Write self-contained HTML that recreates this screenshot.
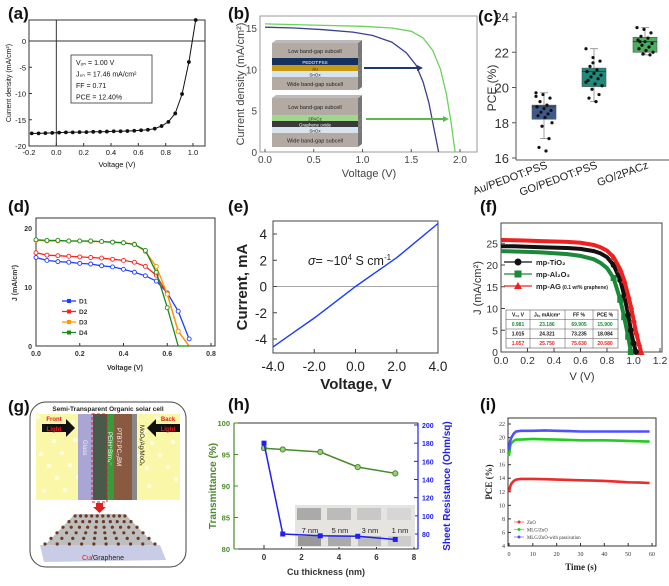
<!DOCTYPE html>
<html><head><meta charset="utf-8"><style>
html,body{margin:0;padding:0;background:#fff}
svg{display:block;font-family:"Liberation Sans",sans-serif}
</style></head><body>
<svg id="fig" width="669" height="586" viewBox="0 0 669 586" xmlns="http://www.w3.org/2000/svg"></svg>
<script>
// ---- data ----
const aV=[-0.18,-0.13,-0.08,-0.03,0.02,0.07,0.12,0.17,0.22,0.27,0.32,0.37,0.42,0.47,0.52,0.57,0.62,0.67,0.72,0.77,0.82,0.87,0.92,0.97,1.02];
const aJ=[-17.6,-17.6,-17.55,-17.5,-17.45,-17.4,-17.4,-17.35,-17.35,-17.3,-17.3,-17.25,-17.2,-17.2,-17.15,-17.1,-17.0,-16.9,-16.7,-16.2,-15.4,-13.8,-10.1,-4.0,4.0];
const bBlueV=[0,0.3,0.6,0.9,1.1,1.3,1.45,1.55,1.62,1.68,1.73,1.78];
const bBlueJ=[15.1,15.0,14.8,14.5,14.1,13.3,12.0,10.5,8.5,6.0,3.0,0];
const bGreenV=[0,0.5,1.0,1.3,1.5,1.62,1.72,1.8,1.86,1.91,1.95];
const bGreenJ=[15.5,15.35,15.2,15.0,14.6,13.8,12.3,10.0,7.0,3.5,0];
const cCats=["Au/PEDOT:PSS","GO/PEDOT:PSS","GO/2PACz"];
const cQ1=[18.2,20.05,22.0],cMed=[18.9,20.9,22.6],cQ3=[19.0,21.1,22.85],cMin=[17.1,19.2,21.85],cMax=[19.7,22.2,23.4];
const cPts=[[19.7,19.6,19.4,19.2,19.0,18.9,18.8,18.7,18.6,18.5,18.4,18.3,18.0,17.8,17.1,16.6,16.4,19.5],
[22.2,21.7,21.5,21.2,21.0,20.9,20.8,20.7,20.6,20.5,20.4,20.2,20.1,19.9,19.6,19.4,19.2,20.3,21.4],
[23.4,23.3,23.1,22.9,22.8,22.7,22.6,22.5,22.4,22.3,22.2,22.1,22.0,21.9,21.85,22.6]];
const dV=[0,0.05,0.1,0.15,0.2,0.25,0.3,0.35,0.4,0.45,0.5,0.55,0.6,0.65,0.7];
const dD1=[15.0,14.5,14.3,14.2,14.0,13.9,13.6,13.4,13.0,12.5,11.9,11.0,9.0,5.9,1.2];
const dD2=[15.8,15.4,15.3,15.2,15.1,15.0,14.9,14.7,14.5,14.2,13.5,12.0,8.8,2.5,0];
const dD3=[17.9,17.8,17.8,17.8,17.8,17.7,17.7,17.6,17.5,17.3,16.0,13.5,8.8,2.5,0];
const dD4=[18.0,17.9,17.9,17.8,17.8,17.8,17.7,17.6,17.5,17.2,16.2,12.5,6.5,0,0];
const eV=[-4,-3,-2,-1,0,1,2,3,4];
const eI=[-4.6,-3.5,-2.4,-1.2,0,1.1,2.2,3.5,4.8];
const fV=[0,0.1,0.2,0.3,0.4,0.5,0.6,0.7,0.75,0.8,0.85,0.9,0.93,0.96,0.98,1.0,1.02,1.04,1.057];
const fTi=[24.3,24.3,24.2,24.1,24.0,23.9,23.7,23.2,22.7,21.8,20.0,16.5,13.0,8.5,5.0,2.0,0,null,null];
const fAl=[23.2,23.1,23.0,22.9,22.7,22.5,22.1,21.3,20.5,19.3,17.0,12.0,8.0,3.5,0,null,null,null,null];
const fAG=[25.75,25.7,25.6,25.5,25.4,25.3,25.1,24.6,24.1,23.3,21.8,19.0,16.5,13.0,10.5,7.5,4.5,2.0,0];
const hX=[0,1,3,5,7];
const hT=[96,95.8,95.4,93,92];
const hR=[180,80,78,77.5,74];
const iT=[0,0.5,1,2,3,5,10,15,20,25,30,35,40,45,50,55,59];
const iZnO=[12,12.8,13.2,13.6,13.8,13.9,13.9,13.85,13.8,13.75,13.7,13.65,13.6,13.5,13.4,13.35,13.3];
const iMLG=[17.3,18.8,19.2,19.5,19.7,19.7,19.8,19.75,19.7,19.65,19.6,19.6,19.6,19.55,19.5,19.45,19.4];
const iPas=[18.2,19.5,20,20.6,20.9,21,21,21.05,21,20.95,20.9,20.9,20.9,20.9,20.9,20.9,20.9];

// ---- helpers ----
const S=document.getElementById('fig'),NS='http://www.w3.org/2000/svg';
function lin(d0,d1,r0,r1){return v=>r0+(v-d0)*(r1-r0)/(d1-d0);}
function mk(t,a,p){const e=document.createElementNS(NS,t);for(const k in a)e.setAttribute(k,a[k]);(p||S).appendChild(e);return e;}
function tx(s,x,y,a,p){const e=mk('text',Object.assign({x:x,y:y,fill:'#111'},a||{}),p);e.textContent=s;return e;}
function grp(name){const g=mk('g',{});return g;}
function path(xs,ys,X,Y){let d='';xs.forEach((v,i)=>{if(ys[i]==null)return;d+=(d?'L':'M')+X(v).toFixed(1)+' '+Y(ys[i]).toFixed(1);});return d;}
function frame(g,x0,y0,x1,y1,c){mk('rect',{x:x0,y:y0,width:x1-x0,height:y1-y0,fill:'none',stroke:c||'#333','stroke-width':1},g);}
function panelLabel(s,x,y){const t=tx(s,x,y,{'font-size':17,'font-weight':'bold'});}

// ---- panel a ----
{const g=grp('panel-a');const X=lin(-0.2,1.0,29,193),Y=lin(0,-20,41,146);
frame(g,29,20,205,146);
mk('line',{x1:29,x2:205,y1:Y(0),y2:Y(0),stroke:'#333'},g);mk('line',{x1:X(0),x2:X(0),y1:20,y2:146,stroke:'#333'},g);
[-0.2,0,0.2,0.4,0.6,0.8,1.0].forEach(v=>{mk('line',{x1:X(v),x2:X(v),y1:146,y2:143,stroke:'#333'},g);tx(v.toFixed(1),X(v),155,{'font-size':7.5,'text-anchor':'middle'},g);});
[0,-5,-10,-15,-20].forEach(v=>{mk('line',{x1:29,x2:32,y1:Y(v),y2:Y(v),stroke:'#333'},g);tx(String(v),26,Y(v)+3,{'font-size':7.5,'text-anchor':'end'},g);});
tx('Voltage (V)',117,167,{'font-size':7.5,'text-anchor':'middle'},g);
tx('Current density (mA/cm²)',0,0,{'font-size':7,'text-anchor':'middle',transform:'translate(11,83) rotate(-90)'},g);
mk('path',{d:path(aV,aJ,X,Y),fill:'none',stroke:'#111','stroke-width':1},g);
aV.forEach((v,i)=>{const c=mk('circle',{cx:X(v),cy:Y(aJ[i]),r:1.9,fill:'#111'},g);});
mk('rect',{x:71,y:55,width:81,height:48,fill:'#fff',stroke:'#333','stroke-width':0.8},g);
['V\u2092\u2099 = 1.00 V','J\u209b\u2099 = 17.46 mA/cm²','FF = 0.71','PCE = 12.40%'].forEach((s,i)=>tx(s,76,65+i*11.5,{'font-size':7},g));}
panelLabel('(a)',8,19);

// ---- panel b ----
{const g=grp('panel-b');const X=lin(0,2,265,460),Y=lin(0,15,152,28);
frame(g,260,16,477,152,'#999');
[0,0.5,1.0,1.5,2.0].forEach(v=>{mk('line',{x1:X(v),x2:X(v),y1:152,y2:149,stroke:'#555'},g);tx(v.toFixed(1),X(v),163,{'font-size':10,'text-anchor':'middle',fill:'#444'},g);});
[0,5,10,15].forEach(v=>{tx(String(v),257,Y(v)+4,{'font-size':10,'text-anchor':'end',fill:'#444'},g);});
tx('Voltage (V)',369,177,{'font-size':11,'text-anchor':'middle',fill:'#444'},g);
tx('Current density (mA/cm²)',0,0,{'font-size':11,'text-anchor':'middle',fill:'#444',transform:'translate(244,84) rotate(-90)'},g);
const bl=mk('path',{d:path(bBlueV,bBlueJ,X,Y),fill:'none',stroke:'#3a3f8f','stroke-width':1.3},g);
const gr=mk('path',{d:path(bGreenV,bGreenJ,X,Y),fill:'none',stroke:'#6ad35a','stroke-width':1.3},g);
function stack(y0,layers){let y=y0;layers.forEach(L=>{mk('rect',{x:272,y:y,width:86,height:L[1],fill:L[2]},g);mk('polygon',{points:`358,${y} 362,${y-3} 362,${y+L[1]-3} 358,${y+L[1]}`,fill:'#777'},g);tx(L[0],315,y+L[1]/2+2.3,{'font-size':L[1]>10?5.5:4.5,'text-anchor':'middle',fill:L[3]||'#222'},g);y+=L[1];});mk('polygon',{points:`272,${y0} 276,${y0-3} 362,${y0-3} 358,${y0}`,fill:'#bbb'},g);}
stack(43,[['Low band-gap subcell',15,'#b3aaa3'],['PEDOT:PSS',7,'#13305e','#fff'],['Au',6,'#c89a10'],['SnOx',6,'#d9e3ee'],['Wide band-gap subcell',13,'#b3aaa3']]);
stack(98,[['Low band-gap subcell',17,'#b3aaa3'],['2PACz',6,'#9fd88a'],['Graphene oxide',6,'#3a3a3a','#fff'],['SnOx',6,'#d9e3ee'],['Wide band-gap subcell',14,'#b3aaa3']]);
mk('line',{x1:364,x2:418,y1:68,y2:68,stroke:'#1e3a6e','stroke-width':2},g);mk('polygon',{points:'423,68 417,65 417,71',fill:'#1e3a6e'},g);
mk('line',{x1:366,x2:444,y1:119,y2:119,stroke:'#5cb84a','stroke-width':2},g);mk('polygon',{points:'449,119 443,116 443,122',fill:'#5cb84a'},g);}
panelLabel('(b)',228,19);

// ---- panel c ----
{const g=grp('panel-c');const Y=lin(16,24,158,17),cx=[544,594,645];const cols=['#3d5a8a','#1f8a7a','#4cae5e'];
mk('line',{x1:516,x2:516,y1:12,y2:160,stroke:'#555'},g);mk('line',{x1:516,x2:669,y1:160,y2:160,stroke:'#555'},g);
[16,18,20,22,24].forEach(v=>{mk('line',{x1:512,x2:516,y1:Y(v),y2:Y(v),stroke:'#555'},g);tx(String(v),509,Y(v)+5,{'font-size':13,'text-anchor':'end',fill:'#333'},g);});
tx('PCE (%)',0,0,{'font-size':12,'text-anchor':'middle',fill:'#333',transform:'translate(496,88) rotate(-90)'},g);
cCats.forEach((c,i)=>{const x=cx[i];
mk('line',{x1:x,x2:x,y1:Y(cMin[i]),y2:Y(cMax[i]),stroke:'#777','stroke-width':0.7},g);
[cMin[i],cMax[i]].forEach(v=>mk('line',{x1:x-4,x2:x+4,y1:Y(v),y2:Y(v),stroke:'#777','stroke-width':0.7},g));
const b=mk('rect',{x:x-12,y:Y(cQ3[i]),width:24,height:Y(cQ1[i])-Y(cQ3[i]),fill:cols[i],stroke:'#555','stroke-width':0.6},g);
mk('line',{x1:x-12,x2:x+12,y1:Y(cMed[i]),y2:Y(cMed[i]),stroke:'#333','stroke-width':0.8},g);
cPts[i].forEach((v,j)=>mk('circle',{cx:x+((j*7)%17-8),cy:Y(v),r:1.6,fill:'#111'},g));
tx(c,0,0,{'font-size':11,'text-anchor':'end',fill:'#222',transform:`translate(${x+4},168) rotate(-20)`},g);});}
panelLabel('(c)',478,22);

// ---- panel d ----
{const g=grp('panel-d');const X=lin(0,0.8,36,211),Y=lin(0,20,346,228);
frame(g,36,218,215,346);
[0,0.2,0.4,0.6,0.8].forEach(v=>{mk('line',{x1:X(v),x2:X(v),y1:346,y2:343,stroke:'#333'},g);tx(v.toFixed(1),X(v),356,{'font-size':7,'font-weight':'bold','text-anchor':'middle',fill:'#333'},g);});
[0,10,20].forEach(v=>tx(String(v),32,Y(v)+3,{'font-size':7,'font-weight':'bold','text-anchor':'end',fill:'#333'},g));
tx('Voltage (V)',125,370,{'font-size':7,'font-weight':'bold','text-anchor':'middle',fill:'#333'},g);
tx('J (mA/cm²)',0,0,{'font-size':7,'font-weight':'bold','text-anchor':'middle',fill:'#333',transform:'translate(17,283) rotate(-90)'},g);
const ser=[[dD1,'#1f3fff','D1'],[dD2,'#ff2020','D2'],[dD3,'#ff9900','D3'],[dD4,'#1a8a1a','D4']];
ser.forEach((s,k)=>{const ys=s[0].slice();const xs=dV.slice();
const p=mk('path',{d:path(xs,ys,X,Y),fill:'none',stroke:s[1],'stroke-width':1.3},g);
xs.forEach((v,i)=>{if(ys[i]>0||i==0)mk('circle',{cx:X(v),cy:Y(ys[i]),r:2,fill:'#fff',stroke:s[1],'stroke-width':0.9},g);});
const ly=301+k*10.5;mk('line',{x1:62,x2:76,y1:ly,y2:ly,stroke:s[1],'stroke-width':1.3},g);mk('rect',{x:67,y:ly-2,width:4,height:4,fill:s[1]},g);tx(s[2],79,ly+2.5,{'font-size':6.5,'font-weight':'bold',fill:'#333'},g);});}
panelLabel('(d)',8,212);

// ---- panel e ----
{const g=grp('panel-e');const X=lin(-4,4,273,438),Y=lin(-4,4,339,234);
frame(g,273,221,438,353,'#444');
mk('line',{x1:273,x2:438,y1:Y(0),y2:Y(0),stroke:'#888','stroke-width':0.7},g);
[-4,-2,0,2,4].forEach(v=>{mk('line',{x1:X(v),x2:X(v),y1:353,y2:349,stroke:'#444'},g);tx(v.toFixed(1),X(v),371,{'font-size':13.5,'text-anchor':'middle',fill:'#222'},g);
mk('line',{x1:273,x2:277,y1:Y(v),y2:Y(v),stroke:'#444'},g);tx(String(v),267,Y(v)+5,{'font-size':13.5,'text-anchor':'end',fill:'#222'},g);});
tx('Voltage, V',356,389,{'font-size':15,'font-weight':'bold','text-anchor':'middle',fill:'#222'},g);
tx('Current, mA',0,0,{'font-size':15,'font-weight':'bold','text-anchor':'middle',fill:'#222',transform:'translate(247,287) rotate(-90)'},g);
const p=mk('path',{d:path(eV,eI,X,Y),fill:'none',stroke:'#1a3cff','stroke-width':1.4},g);
const t=tx('',308,265,{'font-size':12.5,fill:'#222'},g);t.innerHTML='<tspan font-style="italic">σ</tspan>= ~10<tspan dy="-5" font-size="8">4</tspan><tspan dy="5"> S cm</tspan><tspan dy="-5" font-size="8">-1</tspan>';}
panelLabel('(e)',228,212);

// ---- panel f ----
{const g=grp('panel-f');const X=lin(0,1.2,501,660),Y=lin(0,20,352,265);
frame(g,501,223,662,352,'#444');
[0,0.2,0.4,0.6,0.8,1.0,1.2].forEach(v=>{mk('line',{x1:X(v),x2:X(v),y1:352,y2:348,stroke:'#444'},g);tx(v.toFixed(1),X(v),364,{'font-size':10.5,'text-anchor':'middle',fill:'#333'},g);});
[0,5,10,15,20,25].forEach(v=>{mk('line',{x1:501,x2:505,y1:Y(v),y2:Y(v),stroke:'#444'},g);tx(String(v),498,Y(v)+4,{'font-size':10.5,'text-anchor':'end',fill:'#333'},g);});
tx('V (V)',582,380,{'font-size':11,'text-anchor':'middle',fill:'#333'},g);
tx('J (mA/cm²)',0,0,{'font-size':11,'text-anchor':'middle',fill:'#333',transform:'translate(481,288) rotate(-90)'},g);
const ss=[[fAl,'#1a8a3a','rect','mp-Al₂O₃'],[fTi,'#111','circle','mp-TiO₂'],[fAG,'#ee2020','tri','mp-AG']];
ss.forEach(s=>{const p=mk('path',{d:path(fV,s[0],X,Y),fill:'none',stroke:s[1],'stroke-width':4},g);
fV.forEach((v,i)=>{const y=s[0][i];if(y==null||v<0.85)return;const x=X(v),yy=Y(y);
if(s[2]=='circle')mk('circle',{cx:x,cy:yy,r:3,fill:s[1]},g);else if(s[2]=='rect')mk('rect',{x:x-3,y:yy-3,width:6,height:6,fill:s[1]},g);else mk('polygon',{points:`${x},${yy-3.5} ${x-3.5},${yy+3} ${x+3.5},${yy+3}`,fill:s[1]},g);});});
[['mp-TiO₂','#111','circle',262],['mp-Al₂O₃','#1a8a3a','rect',274],['mp-AG','#ee2020','tri',286]].forEach(L=>{const y=L[3];mk('line',{x1:504,x2:532,y1:y,y2:y,stroke:L[1],'stroke-width':1.2},g);
if(L[2]=='circle')mk('circle',{cx:518,cy:y,r:3.5,fill:L[1]},g);else if(L[2]=='rect')mk('rect',{x:514.5,y:y-3.5,width:7,height:7,fill:L[1]},g);else mk('polygon',{points:`518,${y-4} 514,${y+3} 522,${y+3}`,fill:L[1]},g);
const t=tx(L[0],536,y+3,{'font-size':7.5,'font-weight':'bold',fill:'#222'},g);if(L[2]=='tri'){const s=document.createElementNS(NS,'tspan');s.setAttribute('font-size','5');s.textContent=' (0.1 wt% graphene)';t.appendChild(s);}});
const tb=mk('g',{},g);mk('rect',{x:506,y:310,width:112,height:38,fill:'#fff',stroke:'#555','stroke-width':0.6},tb);
[319.5,329,338.5].forEach(y=>mk('line',{x1:506,x2:618,y1:y,y2:y,stroke:'#555','stroke-width':0.5},tb));
[530,565,593].forEach(x=>mk('line',{x1:x,x2:x,y1:310,y2:348,stroke:'#555','stroke-width':0.5},tb));
const rows=[['V₀꜀ V','Jₛ꜀ mA/cm²','FF %','PCE %','#111'],['0.981','23.186','69.905','15.900','#1a8a3a'],['1.015','24.321','73.235','18.084','#111'],['1.057','25.750','75.630','20.580','#ee2020']];
const cxs=[518,547,579,605];rows.forEach((r,i)=>r.slice(0,4).forEach((c,j)=>tx(c,cxs[j],316.5+i*9.5,{'font-size':5,'font-weight':'bold','text-anchor':'middle',fill:r[4]},tb)));}
panelLabel('(f)',480,212);

// ---- panel g ----
{const g=grp('panel-g');
mk('rect',{x:30,y:402,width:156,height:165,rx:16,fill:'#fff',stroke:'#444','stroke-width':1},g);
tx('Semi-Transparent Organic solar cell',108,411,{'font-size':6.5,'font-weight':'bold','text-anchor':'middle',fill:'#222'},g);
mk('rect',{x:36,y:414,width:144,height:86,fill:'#fbf7a8'},g);
for(let i=0;i<40;i++){mk('circle',{cx:38+(i*37)%140,cy:417+(i*23)%80,r:2.2,fill:'#fffde0'},g);}
mk('rect',{x:78,y:414,width:15,height:86,fill:'#a9a5d4'},g);
mk('rect',{x:93,y:414,width:14,height:86,fill:'#4a5a4a'},g);
mk('rect',{x:107,y:414,width:7,height:86,fill:'#3a9a3a'},g);
mk('rect',{x:114,y:414,width:18,height:86,fill:'#8a5a40'},g);
mk('rect',{x:132,y:414,width:5,height:86,fill:'#888'},g);
mk('rect',{x:92,y:414,width:15,height:88,fill:'none',stroke:'#e02020','stroke-width':1,'stroke-dasharray':'3,2'},g);
tx('Glass',0,0,{'font-size':6,fill:'#eee',transform:'translate(83,440) rotate(90)'},g);
tx('PEIH⁺BIm₄⁻',0,0,{'font-size':6,fill:'#fff',transform:'translate(108,432) rotate(90)'},g);
tx('PTB7:PC₇₁BM',0,0,{'font-size':6,fill:'#fff',transform:'translate(117,428) rotate(90)'},g);
tx('MoOₓ/Ag/MoOₓ',0,0,{'font-size':6,fill:'#222',transform:'translate(140,425) rotate(90)'},g);
mk('polygon',{points:'42,424 66,424 66,419 75,428 66,437 66,432 42,432',fill:'#111'},g);
tx('Front',54,421,{'font-size':6,'font-weight':'bold','text-anchor':'middle',fill:'#e02020'},g);tx('Light',54,431,{'font-size':6,'font-weight':'bold','text-anchor':'middle',fill:'#e02020'},g);
mk('polygon',{points:'180,424 156,424 156,419 147,428 156,437 156,432 180,432',fill:'#111'},g);
tx('Back',168,421,{'font-size':6,'font-weight':'bold','text-anchor':'middle',fill:'#e02020'},g);tx('Light',168,431,{'font-size':6,'font-weight':'bold','text-anchor':'middle',fill:'#e02020'},g);
mk('polygon',{points:'96,503 103,503 103,507 106,507 99.5,513 93,507 96,507',fill:'#e02020'},g);
mk('polygon',{points:'40,545 160,545 166,560 44,562',fill:'#c8cce6'},g);
mk('polygon',{points:'75,514 125,514 155,545 45,545',fill:'#888',opacity:0.55},g);
for(let r=0;r<6;r++){for(let c=0;c<10;c++){const w=50+r*12,x=100-w/2+c*w/9,y=516+r*5.6;mk('circle',{cx:x,cy:y,r:1.6,fill:'#6a3a22'},g);}}
const t=tx('',103,560,{'font-size':7,'text-anchor':'middle',fill:'#222'},g);t.innerHTML='<tspan fill="#e02020">Cu</tspan>/Graphene';}
panelLabel('(g)',8,412);

// ---- panel h ----
{const g=grp('panel-h');const X=lin(0,8,264,414),YL=lin(80,100,549,423),YR=lin(80,200,534,425);
mk('line',{x1:234,x2:234,y1:423,y2:549,stroke:'#4a8a2a','stroke-width':1.2},g);mk('line',{x1:418,x2:418,y1:423,y2:549,stroke:'#2020ee','stroke-width':1.2},g);
mk('line',{x1:234,x2:418,y1:549,y2:549,stroke:'#333'},g);mk('line',{x1:234,x2:418,y1:423,y2:423,stroke:'#333'},g);
[0,2,4,6,8].forEach(v=>{mk('line',{x1:X(v),x2:X(v),y1:549,y2:545,stroke:'#333'},g);tx(String(v),X(v),560,{'font-size':8,'font-weight':'bold','text-anchor':'middle',fill:'#333'},g);});
[80,85,90,95,100].forEach(v=>{mk('line',{x1:234,x2:238,y1:YL(v),y2:YL(v),stroke:'#4a8a2a'},g);tx(String(v),230,YL(v)+3,{'font-size':7.5,'font-weight':'bold','text-anchor':'end',fill:'#4a8a2a'},g);});
[80,100,120,140,160,180,200].forEach(v=>{mk('line',{x1:414,x2:418,y1:YR(v),y2:YR(v),stroke:'#2020ee'},g);tx(String(v),422,YR(v)+3,{'font-size':7,'font-weight':'bold',fill:'#2020ee'},g);});
tx('Cu thickness (nm)',326,575,{'font-size':9,'font-weight':'bold','text-anchor':'middle',fill:'#333'},g);
tx('Transmittance (%)',0,0,{'font-size':10,'font-weight':'bold','text-anchor':'middle',fill:'#4a8a2a',transform:'translate(216,486) rotate(-90)'},g);
tx('Sheet Resistance (Ohm/sq)',0,0,{'font-size':10,'font-weight':'bold','text-anchor':'middle',fill:'#2020ee',transform:'translate(450,486) rotate(-90)'},g);
mk('rect',{x:295,y:505,width:120,height:42,fill:'#e6e4e0'},g);
['7 nm','5 nm','3 nm','1 nm'].forEach((s,i)=>{const x=297+i*30;mk('rect',{x:x,y:508,width:24,height:12,fill:['#aaa','#bbb','#c8c8c8','#d6d6d6'][i]},g);mk('rect',{x:x+1,y:536,width:23,height:10,fill:['#999','#aaa','#bbb','#ccc'][i]},g);tx(s,x+13,533,{'font-size':7.5,fill:'#222','text-anchor':'middle'},g);});
const pt=mk('path',{d:path(hX,hT,X,YL),fill:'none',stroke:'#4a8a2a','stroke-width':1.5},g);
hX.forEach((v,i)=>mk('circle',{cx:X(v),cy:YL(hT[i]),r:2.6,fill:'#9ad07a',stroke:'#4a8a2a'},g));
const pr=mk('path',{d:path(hX,hR,X,YR),fill:'none',stroke:'#2020ee','stroke-width':1.5},g);
hX.forEach((v,i)=>mk('rect',{x:X(v)-2.5,y:YR(hR[i])-2.5,width:5,height:5,fill:'#2020ee'},g));}
panelLabel('(h)',228,410);

// ---- panel i ----
{const g=grp('panel-i');const X=lin(0,60,509,652),Y=lin(4,22,546,424);
frame(g,508,418,656,546,'#333');
[0,10,20,30,40,50,60].forEach(v=>{mk('line',{x1:X(v),x2:X(v),y1:546,y2:543,stroke:'#333'},g);tx(String(v),X(v),556,{'font-size':6,'text-anchor':'middle',fill:'#333',"font-family":"Liberation Serif"},g);});
[4,6,8,10,12,14,16,18,20,22].forEach(v=>{mk('line',{x1:508,x2:511,y1:Y(v),y2:Y(v),stroke:'#333'},g);tx(String(v),505,Y(v)+2,{'font-size':6,'text-anchor':'end',fill:'#333',"font-family":"Liberation Serif"},g);});
tx('Time (s)',581,570,{'font-size':9,'font-weight':'bold','text-anchor':'middle',fill:'#222',"font-family":"Liberation Serif"},g);
tx('PCE (%)',0,0,{'font-size':9,'font-weight':'bold','text-anchor':'middle',fill:'#222',"font-family":"Liberation Serif",transform:'translate(492,482) rotate(-90)'},g);
[[iZnO,'#ee2a2a','ZnO'],[iMLG,'#22cc22','MLG/ZnO'],[iPas,'#5050ff','MLG/ZnO-with passivation']].forEach((s,k)=>{const p=mk('path',{d:path(iT,s[0],X,Y),fill:'none',stroke:s[1],'stroke-width':2.6},g);
const y=522+k*7.5;mk('line',{x1:514,x2:524,y1:y,y2:y,stroke:s[1],'stroke-width':0.6},g);mk('circle',{cx:519,cy:y,r:1.5,fill:s[1]},g);tx(s[2],527,y+2,{'font-size':4.8,fill:'#333',"font-family":"Liberation Serif"},g);});}
panelLabel('(i)',480,410);
</script>
</body></html>
